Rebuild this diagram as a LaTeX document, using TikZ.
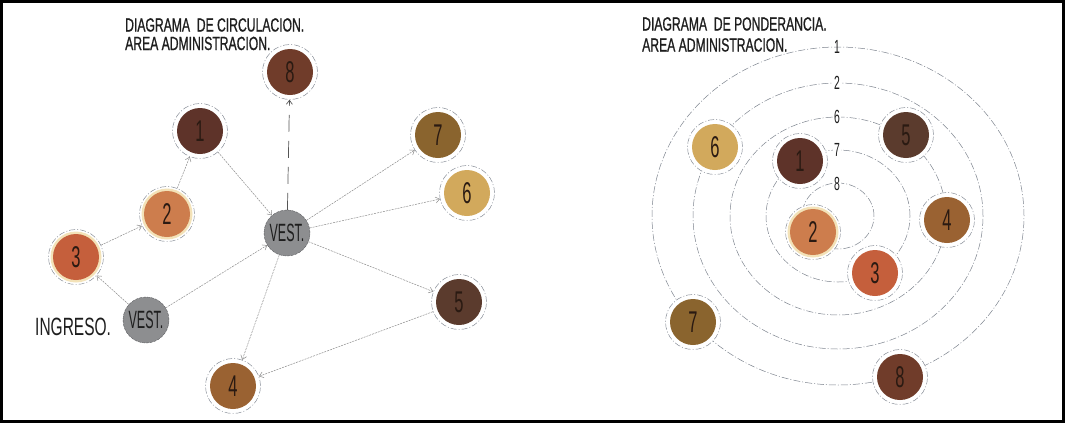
\documentclass[tikz,border=0pt]{standalone}
\usepackage{fontspec}
\setmainfont{Liberation Sans}
\newfontfamily\titlefont[FakeStretch=0.64,FakeBold=0.8]{Liberation Sans}
\newfontfamily\digitfont[FakeStretch=0.55]{Liberation Sans}
\newfontfamily\vestfont[FakeStretch=0.5]{Liberation Sans}
\newfontfamily\ingfont[FakeStretch=0.62]{Liberation Sans}
\usetikzlibrary{arrows.meta}
\definecolor{textc}{HTML}{1E1E1E}
\definecolor{digitc}{HTML}{2A1A12}
\definecolor{ringc}{HTML}{7E858F}
\definecolor{connc}{HTML}{8C8C8C}
\definecolor{dashc}{HTML}{555555}
\definecolor{vestc}{HTML}{8D8E90}
\definecolor{vestedge}{HTML}{5E5F62}
\definecolor{creamc}{HTML}{F3E2B8}
\definecolor{cA}{HTML}{703C2A}% 8
\definecolor{cB}{HTML}{5E3329}% 1
\definecolor{cC}{HTML}{8A642E}% 7
\definecolor{cD}{HTML}{D2A95C}% 6
\definecolor{cE}{HTML}{CD7D4D}% 2
\definecolor{cF}{HTML}{C55F3C}% 3
\definecolor{cG}{HTML}{5B3B2D}% 5
\definecolor{cH}{HTML}{9A6232}% 4
\tikzset{
  numnode/.style={circle, minimum size=55pt, inner sep=0pt, fill=white,
    draw=ringc, line width=0.45pt, dash pattern=on 6pt off 2pt on 1pt off 2pt,
    font=\digitfont\fontsize{30}{30}\selectfont, text=digitc,
    path picture={\fill[#1] (path picture bounding box.center) circle (23pt);}},
  numnodecream/.style={circle, minimum size=55pt, inner sep=0pt, fill=white,
    draw=ringc, line width=0.45pt, dash pattern=on 6pt off 2pt on 1pt off 2pt,
    font=\digitfont\fontsize{30}{30}\selectfont, text=digitc,
    path picture={\fill[creamc] (path picture bounding box.center) circle (25.5pt);
                  \fill[#1] (path picture bounding box.center) circle (23pt);}},
  vest/.style={circle, minimum size=46pt, inner sep=0pt, fill=vestc,
    draw=vestedge, line width=0.4pt, dash pattern=on 3pt off 1pt,
    font=\vestfont\fontsize{25}{25}\selectfont, text=textc},
  titletext/.style={anchor=base west, inner sep=0pt, text=textc,
    font=\titlefont\fontsize{19}{19}\selectfont},
  ingtext/.style={anchor=base west, inner sep=0pt, text=textc,
    font=\ingfont\fontsize{25}{25}\selectfont},
  conn/.style={draw=connc, line width=0.5pt, dash pattern=on 2pt off 1pt,
    -{Straight Barb[length=4pt,width=6pt]}},
  bigdash/.style={draw=dashc, line width=0.7pt, dash pattern=on 17pt off 9pt,
    -{Straight Barb[length=4pt,width=6pt]}},
  ringline/.style={draw=ringc, line width=0.5pt, dash pattern=on 7pt off 2pt on 1pt off 2pt},
  ringlab/.style={inner sep=1pt, text=textc, font=\digitfont\fontsize{19}{19}\selectfont},
  ringlabw/.style={ringlab, fill=white},
  frame/.style={draw=black, line width=2.6pt}
}
\begin{document}
\begin{tikzpicture}[x=1pt,y=-1pt]
\useasboundingbox (0,0) rectangle (1066,424);
\fill[white] (0,0) rectangle (1066,424);
\draw[frame] (1.3,1.3) rectangle (1063.7,421.7);

% ---------- left: circulation diagram ----------
\node[titletext] (t1) at (125,31.5) {DIAGRAMA\ \ DE CIRCULACION.};
\node[titletext] (t2) at (125,50) {AREA ADMINISTRACION.};

\node[numnode=cA] (a8) at (290,72) {8};
\node[numnode=cB] (a1) at (200,131) {1};
\node[numnode=cC] (a7) at (438,135) {7};
\node[numnode=cD] (a6) at (467,193) {6};
\node[numnodecream=cE] (a2) at (167,214) {2};
\node[vest] (v1) at (287,233) {VEST.};
\node[numnodecream=cF] (a3) at (76,257) {3};
\node[numnode=cG] (a5) at (459,302) {5};
\node[vest] (v0) at (146,320) {VEST.};
\node[numnode=cH] (a4) at (233,386) {4};
\node[ingtext] (ing) at (35,335) {INGRESO.};

\draw[conn] (a2) -- (a1);
\draw[conn] (a3) -- (a2);
\draw[conn] (v0) -- (a3);
\draw[conn] (v0) -- (v1);
\draw[conn] (a1) -- (v1);
\draw[bigdash] (v1) -- (a8);
\draw[conn] (v1) -- (a7);
\draw[conn] (v1) -- (a6);
\draw[conn] (v1) -- (a5);
\draw[conn] (v1) -- (a4);
\draw[conn] (a5) -- (a4);

% ---------- right: ponderance diagram ----------
\node[titletext] (t3) at (642,30.5) {DIAGRAMA\ \ DE PONDERANCIA.};
\node[titletext] (t4) at (642,51.5) {AREA ADMINISTRACION.};

\coordinate (rc) at (838,216);
\draw[ringline] (rc) ellipse [x radius=186pt, y radius=169pt];
\draw[ringline] (rc) ellipse [x radius=145pt, y radius=133pt];
\draw[ringline] (rc) ellipse [x radius=108pt, y radius=99pt];
\draw[ringline] (rc) ellipse [x radius=72pt, y radius=66pt];
\draw[ringline] (rc) ellipse [x radius=36pt, y radius=33pt];

\node[ringlab] (r1) at (837,47) {1};
\node[ringlabw] (r2) at (837,83) {2};
\node[ringlabw] (r6) at (837,117) {6};
\node[ringlabw] (r7) at (837,150) {7};
\node[ringlabw] (r8) at (837,184) {8};

\node[numnode=cD] (b6) at (715,147) {6};
\node[numnode=cB] (b1) at (800,161) {1};
\node[numnode=cG] (b5) at (906,135) {5};
\node[numnode=cH] (b4) at (947,220) {4};
\node[numnodecream=cE] (b2) at (813,232) {2};
\node[numnode=cF] (b3) at (875,273) {3};
\node[numnode=cC] (b7) at (693,322) {7};
\node[numnode=cA] (b8) at (900,377) {8};
\end{tikzpicture}
\end{document}
